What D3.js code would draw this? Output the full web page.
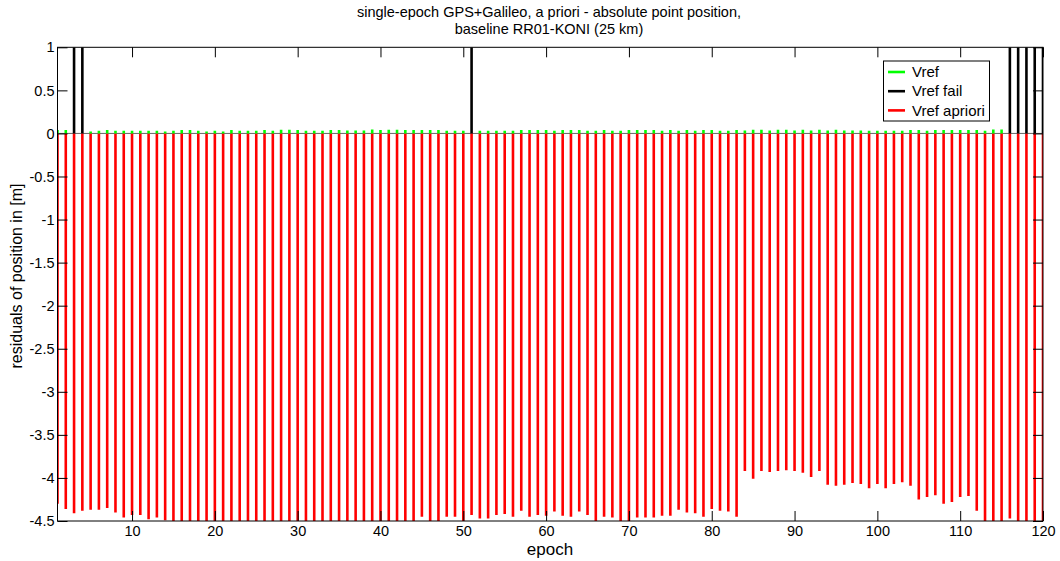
<!DOCTYPE html>
<html>
<head>
<meta charset="utf-8">
<script src="https://cdn.jsdelivr.net/npm/d3@7"></script>
<style>
  html, body { margin: 0; padding: 0; background: #fff; }
  svg { display: block; font-family: "Liberation Sans", Arial, sans-serif; }
</style>
</head>
<body>
<svg id="chart" width="1060" height="561"></svg>
<script>
// ---- data ----
const epochs = d3.range(1, 121);
const vrefApriori = [
  -4.30,-4.36,-4.41,-4.38,-4.37,-4.37,-4.35,-4.40,-4.46,-4.43,-4.43,-4.48,-4.46,-4.49,
  -4.58,-4.62,-4.55,-4.60,-4.57,-4.63,-4.59,-4.56,-4.61,-4.58,-4.64,-4.57,-4.60,-4.55,-4.59,
  -4.57,-4.61,-4.58,-4.63,-4.56,-4.60,-4.59,-4.62,-4.57,-4.64,-4.58,-4.61,-4.56,-4.60,-4.55,
  -4.45,-4.56,-4.58,-4.45,-4.45,-4.55,
  -4.43,-4.47,-4.47,-4.43,-4.42,-4.45,-4.38,-4.45,-4.43,-4.44,
  -4.39,-4.44,-4.45,-4.39,-4.43,-4.55,-4.45,-4.46,-4.53,-4.54,
  -4.46,-4.46,-4.46,-4.44,-4.44,-4.37,-4.40,-4.41,-4.45,-4.36,
  -4.38,-4.39,-4.45,-3.92,-4.01,-3.92,-3.93,-3.92,-3.91,-3.92,
  -3.94,-3.99,-3.92,-4.08,-4.09,-4.08,-4.06,-4.07,-4.12,-4.07,
  -4.12,-4.07,-4.05,-4.09,-4.25,-4.22,-4.20,-4.30,-4.28,-4.22,
  -4.21,-4.38,-4.56,-4.60,-4.55,-4.47,-4.58,-4.62,-4.57,-4.60
];
const vref = [
  .039,.039,null,null,.023,.031,.039,.031,.031,.031,
  .031,.031,.031,.023,.031,.039,.039,.031,.023,.031,
  .023,.039,.031,.031,.031,.039,.031,.043,.043,.039,
  .031,.031,.031,.039,.039,.035,.035,.035,.046,.039,
  .043,.043,.039,.039,.039,.039,.039,.031,.031,.031,
  null,.031,.031,.031,.031,.031,.039,.039,.039,.039,
  .031,.039,.039,.039,.031,.031,.039,.031,.031,.039,
  .039,.039,.039,.031,.039,.031,.039,.031,.039,.039,
  .031,.031,.039,.035,.043,.043,.035,.043,.043,.035,
  .043,.035,.043,.035,.043,.035,.033,.035,.031,.031,
  .031,.031,.031,.039,.039,.031,.039,.039,.039,.039,
  .039,.039,.031,.046,.046,null,null,null,null,null
];
const failEpochs = [3, 4, 51, 116, 117, 118, 119, 120];
const failValues = [1, 1, 1, 1, 1, 1, 1, 1];
const xTicks = [10, 20, 30, 40, 50, 60, 70, 80, 90, 100, 110, 120];
const yTicks = [1, 0.5, 0, -0.5, -1, -1.5, -2, -2.5, -3, -3.5, -4, -4.5];
const titleLines = ["single-epoch GPS+Galileo, a priori - absolute point position,", "baseline RR01-KONI (25 km)"];
const legendLabels = ["Vref", "Vref fail", "Vref apriori"];
const legendColors = ["#00ff00", "#000000", "#ff0000"];

// ---- layout ----
const L = 57.5, R = 1043, T = 47.3, B = 521;
const svg = d3.select("#chart");
const x = d3.scaleLinear().domain([1, 120]).range([L, R]);
const y = d3.scaleLinear().domain([-4.5, 1]).range([B, T]);

svg.append("defs").append("clipPath").attr("id", "plotclip")
  .append("rect").attr("x", L).attr("y", T).attr("width", R - L).attr("height", B - T);

const plot = svg.append("g").attr("clip-path", "url(#plotclip)");

// zero baseline
plot.append("line").attr("x1", L).attr("x2", R).attr("y1", y(0)).attr("y2", y(0))
  .attr("stroke", "#666").attr("stroke-width", 1);

// red stems
plot.selectAll("line.apriori").data(epochs).enter().append("line")
  .attr("class", "apriori")
  .attr("x1", (d) => x(d)).attr("x2", (d) => x(d))
  .attr("y1", y(0)).attr("y2", (d, i) => y(vrefApriori[i]))
  .attr("stroke", "#ff0000").attr("stroke-width", 2.6);

// green stems
plot.selectAll("line.vref").data(epochs.filter((d, i) => vref[i] !== null)).enter().append("line")
  .attr("class", "vref")
  .attr("x1", (d) => x(d)).attr("x2", (d) => x(d))
  .attr("y1", y(0)).attr("y2", (d) => y(vref[d - 1]))
  .attr("stroke", "#00ff00").attr("stroke-width", 2.6);

// black fail stems
plot.selectAll("line.fail").data(failEpochs).enter().append("line")
  .attr("class", "fail")
  .attr("x1", (d) => x(d)).attr("x2", (d) => x(d))
  .attr("y1", y(0)).attr("y2", (d, i) => y(failValues[i]))
  .attr("stroke", "#000000").attr("stroke-width", 2.6);

// frame
svg.append("rect").attr("x", L).attr("y", T).attr("width", R - L).attr("height", B - T)
  .attr("fill", "none").attr("stroke", "#000").attr("stroke-width", 1);

// axes (inward ticks)
const tickLen = 10;
const xAxisB = d3.axisBottom(x).tickValues(xTicks).tickSize(-tickLen).tickPadding(5).tickFormat(d3.format("d"));
const gxb = svg.append("g").attr("transform", `translate(0,${B})`).call(xAxisB);
const xAxisT = d3.axisTop(x).tickValues(xTicks).tickSize(-tickLen).tickFormat("");
const gxt = svg.append("g").attr("transform", `translate(0,${T})`).call(xAxisT);
const yAxisL = d3.axisLeft(y).tickValues(yTicks).tickSize(-tickLen).tickPadding(3).tickFormat((d) => d3.format("")(d).replace("−", "-"));
const gyl = svg.append("g").attr("transform", `translate(${L},0)`).call(yAxisL);
const yAxisR = d3.axisRight(y).tickValues(yTicks).tickSize(-tickLen).tickFormat("");
const gyr = svg.append("g").attr("transform", `translate(${R},0)`).call(yAxisR);

[gxb, gxt, gyl, gyr].forEach((g) => {
  g.select(".domain").remove();
  g.selectAll(".tick line").attr("stroke", "#000").attr("stroke-width", 1);
  g.selectAll("text").attr("fill", "#000").style("font-size", "14.5px").style("font-family", '"Liberation Sans", Arial, sans-serif');
});
gxb.selectAll("text").attr("dy", "0.71em");

// title
svg.append("g").selectAll("text").data(titleLines).enter().append("text")
  .attr("x", 549).attr("y", (d, i) => 17 + i * 17)
  .attr("text-anchor", "middle").style("font-size", "14.5px").attr("fill", "#000")
  .text((d) => d);

// axis labels
svg.append("text").attr("x", 550).attr("y", 555).attr("text-anchor", "middle")
  .style("font-size", "17px").attr("fill", "#000").text("epoch");
svg.append("text").attr("transform", "translate(22,276) rotate(-90)").attr("text-anchor", "middle")
  .style("font-size", "16px").attr("fill", "#000").text("residuals of position in [m]");

// legend
const lg = svg.append("g");
lg.append("rect").attr("x", 883.5).attr("y", 61).attr("width", 106).attr("height", 60)
  .attr("fill", "#fff").attr("stroke", "#000").attr("stroke-width", 1);
legendLabels.forEach((lab, i) => {
  const cy = 72 + i * 19.2;
  lg.append("line").attr("x1", 888).attr("x2", 905).attr("y1", cy).attr("y2", cy)
    .attr("stroke", legendColors[i]).attr("stroke-width", 2.6);
  lg.append("text").attr("x", 912).attr("y", cy).attr("dy", "0.35em")
    .style("font-size", "15px").attr("fill", "#000").text(lab);
});
</script>
</body>
</html>
